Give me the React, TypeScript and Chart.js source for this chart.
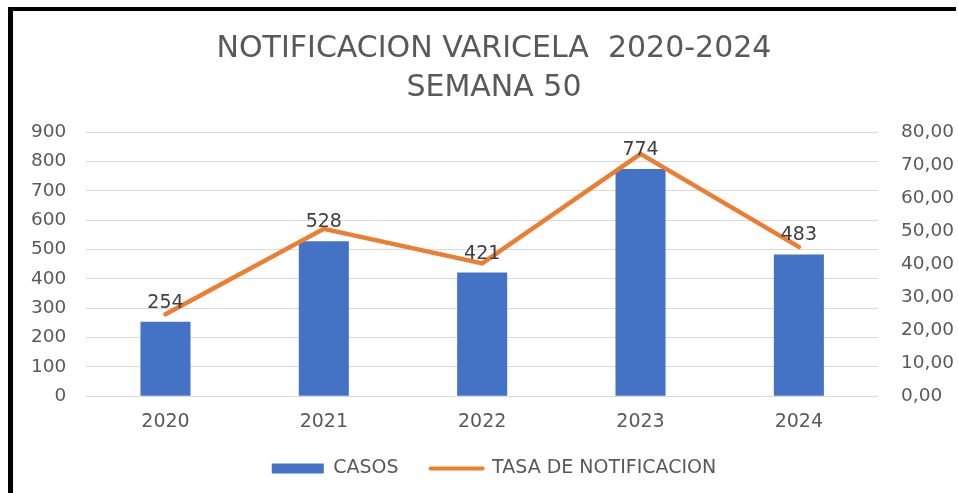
import React, { useEffect, useRef } from "react";
import { Chart, registerables } from "chart.js";

Chart.register(...registerables);

const years = ["2020", "2021", "2022", "2023", "2024"];
const casos = [254, 528, 421, 774, 483];
const tasa = [24.8, 50.7, 40.2, 73.4, 45.2];
const titleLines = ["NOTIFICACION VARICELA  2020-2024", "SEMANA 50"];
const legendCasos = "CASOS";
const legendTasa = "TASA DE NOTIFICACION";

const FONT = "'DejaVu Sans', sans-serif";
const TEXT = "#595959";
const LEGEND_SHRINK = 19;
const LEGEND_LIFT = 20;

const barLabels = {
  id: "barLabels",
  afterDatasetsDraw(chart: any) {
    const meta = chart.getDatasetMeta(0);
    const ctx = chart.ctx;
    ctx.save();
    ctx.font = `19px ${FONT}`;
    ctx.fillStyle = "#404040";
    ctx.textAlign = "center";
    ctx.textBaseline = "alphabetic";
    meta.data.forEach((el: any, i: number) => {
      ctx.fillText(String(chart.data.datasets[0].data[i]), el.x, el.y - 14);
    });
    ctx.restore();
  },
};

const legendTweak = {
  id: "legendTweak",
  beforeInit(chart: any) {
    const lg = chart.legend;
    if (!lg || lg.__tweaked) return;
    const orig = lg.fit.bind(lg);
    lg.fit = function () {
      orig();
      this.height = Math.max(this.height - LEGEND_SHRINK, 0);
    };
    lg.__tweaked = true;
  },
  afterLayout(chart: any) {
    const lg = chart.legend;
    if (!lg) return;
    lg.top -= LEGEND_LIFT;
    lg.height += LEGEND_SHRINK;
    lg.bottom = lg.top + lg.height;
  },
};

export default function App() {
  const ref = useRef<HTMLCanvasElement>(null);
  useEffect(() => {
    if (!ref.current) return;
    const chart = new Chart(ref.current, {
      type: "bar",
      data: {
        labels: years,
        datasets: [
          {
            type: "bar",
            label: legendCasos,
            data: casos,
            backgroundColor: "#4472C4",
            borderWidth: 0,
            yAxisID: "y",
            order: 1,
            categoryPercentage: 1,
            barPercentage: 0.316,
          } as any,
          {
            type: "line",
            label: legendTasa,
            data: tasa,
            borderColor: "#ED7D31",
            backgroundColor: "#ED7D31",
            borderWidth: 4.5,
            pointRadius: 0,
            tension: 0,
            borderCapStyle: "round",
            yAxisID: "y1",
            order: 0,
          } as any,
        ],
      },
      options: {
        animation: false,
        responsive: true,
        maintainAspectRatio: false,
        layout: { padding: { left: -2, right: -19, top: 19, bottom: 4 } },
        plugins: {
          title: {
            display: true,
            text: titleLines,
            color: TEXT,
            font: { family: FONT, size: 30, weight: "normal", lineHeight: 1.3 },
            padding: { top: 0, bottom: 24 },
          },
          legend: {
            position: "bottom",
            labels: {
              color: TEXT,
              font: { family: FONT, size: 19 },
              usePointStyle: true,
              pointStyleWidth: 52,
              boxHeight: 10,
              padding: 32,
              generateLabels: (ch: any) => {
                const items = Chart.defaults.plugins.legend.labels.generateLabels(ch);
                items.sort((a: any, b: any) => a.datasetIndex - b.datasetIndex);
                return items.map((it: any) => {
                  if (it.datasetIndex === 0) {
                    return { ...it, pointStyle: "rect", fillStyle: "#4472C4", strokeStyle: "#4472C4", lineWidth: 0 };
                  }
                  return { ...it, pointStyle: "line", strokeStyle: "#ED7D31", fillStyle: "#ED7D31", lineWidth: 4, lineCap: "round" };
                });
              },
            },
          },
          tooltip: { enabled: false },
        },
        scales: {
          x: {
            grid: { display: false, drawTicks: false },
            border: { display: false },
            ticks: { color: TEXT, font: { family: FONT, size: 19 }, padding: 14 },
          },
          y: {
            position: "left",
            min: 0,
            max: 900,
            grid: { color: "#d9d9d9", lineWidth: 1, drawTicks: false },
            border: { display: false },
            ticks: { stepSize: 100, color: TEXT, font: { family: FONT, size: 18.5 }, padding: 20 },
          },
          y1: {
            position: "right",
            min: 0,
            max: 80,
            grid: { drawOnChartArea: false, drawTicks: false },
            border: { display: false },
            ticks: {
              stepSize: 10,
              color: TEXT,
              font: { family: FONT, size: 18.5 },
              padding: 23,
              callback: (v: any) => Number(v).toFixed(2).replace(".", ","),
            },
          },
        },
      },
      plugins: [barLabels, legendTweak],
    });
    return () => chart.destroy();
  }, []);

  return (
    <div style={{ position: "fixed", left: 0, top: 0, width: 958, height: 493, background: "#fff", overflow: "hidden" }}>
      <div style={{ position: "absolute", left: 8, top: 7, width: 948, height: 4, background: "#000" }} />
      <div style={{ position: "absolute", left: 8, top: 7, width: 5, height: 486, background: "#000" }} />
      <div style={{ position: "absolute", left: 13, top: 11, width: 945, height: 482 }}>
        <canvas ref={ref} />
      </div>
    </div>
  );
}
